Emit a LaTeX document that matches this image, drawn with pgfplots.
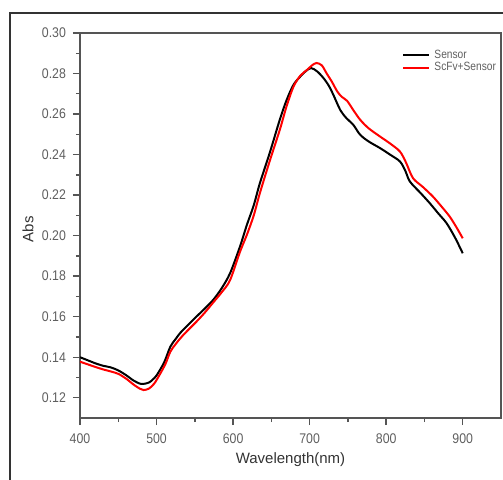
\documentclass[border=0pt]{standalone}
\usepackage{fontspec}
\setmainfont{Liberation Sans}
\newfontfamily\narrowfont[FakeStretch=0.88]{Liberation Sans}
\newfontfamily\legfont[FakeStretch=0.85]{Liberation Sans}
\usepackage{pgfplots}
\pgfplotsset{compat=1.18}
\definecolor{axgray}{RGB}{85,85,85}
\definecolor{txtgray}{RGB}{95,95,95}
\begin{document}
\begin{tikzpicture}
\useasboundingbox (-40pt,-30.5pt) rectangle (211.5pt,209pt);
\draw[line width=0.6pt, black!80] (-35pt,-31pt) -- (-35pt,202.5pt) -- (212pt,202.5pt);
\begin{axis}[
  at={(0pt,0pt)}, anchor=south west,
  scale only axis, width=210.5pt, height=192.5pt,
  xmin=400, xmax=950, ymin=0.11, ymax=0.30,
  xtick={400,500,600,700,800,900},
  minor xtick={450,550,650,750,850},
  ytick={0.12,0.14,0.16,0.18,0.20,0.22,0.24,0.26,0.28,0.30},
  minor ytick={0.13,0.15,0.17,0.19,0.21,0.23,0.25,0.27,0.29},
  yticklabel style={/pgf/number format/.cd, fixed, fixed zerofill, precision=2},
  /pgf/number format/assume math mode=true,
  xtick pos=left, ytick pos=left, tick align=outside,
  major tick length=3.5pt, minor tick length=2pt,
  every tick/.style={axgray, line width=0.7pt},
  axis line style={axgray, line width=1.1pt},
  tick label style={font=\narrowfont\fontsize{7}{8}\selectfont, text=txtgray},
  xticklabel style={yshift=-1pt},
  xlabel={Wavelength(nm)}, ylabel={Abs},
  label style={font=\fontsize{7.5}{9}\selectfont, text=black!80},
  xlabel style={at={(axis description cs:0.5,0)}, anchor=center, yshift=-21pt},
  ylabel style={at={(axis description cs:-0.1235,0.49)}, anchor=center, rotate=0},
  legend style={at={(axis description cs:0.765,0.968)}, anchor=north west, draw=none, fill=none,
    font=\legfont\fontsize{6}{6}\selectfont, text=txtgray, row sep=-3.5pt, inner sep=0pt,
    /tikz/every even column/.append style={column sep=0pt}},
  legend cell align=left,
  legend image code/.code={\draw[#1] (0pt,0pt) -- (13pt,0pt);},
]
\addplot[black, line width=1pt, smooth] coordinates {
(400,0.1400)(410,0.1385)(420,0.1370)(430,0.1358)(440,0.1350)(450,0.1335)(460,0.1312)(470,0.1285)
(480,0.1268)(490,0.1275)(495,0.1290)(500,0.1310)(510,0.1375)(518,0.1452)(525,0.1490)(531,0.1520)
(540,0.1555)(552,0.1600)(563,0.1640)(574,0.1683)(585,0.1740)(596,0.1814)(609,0.1946)(618,0.2053)
(627,0.2150)(635,0.2259)(648,0.2410)(661,0.2572)(670,0.2670)(679,0.2745)(688,0.2786)(695,0.2812)
(702,0.2827)(710,0.2810)(718,0.2778)(725,0.2740)(731,0.2695)(740,0.2620)(748,0.2580)(757,0.2547)
(766,0.2498)(777,0.2465)(792,0.2432)(805,0.2400)(818,0.2366)(825,0.2320)(831,0.2267)(845,0.2210)
(857,0.2160)(868,0.2110)(879,0.2061)(890,0.1990)(900,0.1913)
};
\addlegendentry{Sensor}
\addplot[red, line width=1pt, smooth] coordinates {
(400,0.1378)(410,0.1365)(420,0.1352)(430,0.1340)(440,0.1330)(450,0.1318)(460,0.1295)(470,0.1265)
(478,0.1245)(483,0.1238)(490,0.1245)(497,0.1270)(505,0.1320)(512,0.1370)(518,0.1427)(525,0.1465)
(535,0.1510)(552,0.1575)(563,0.1620)(574,0.1670)(585,0.1720)(596,0.1780)(609,0.1920)(618,0.2004)
(627,0.2100)(635,0.2210)(648,0.2370)(661,0.2522)(670,0.2640)(679,0.2736)(688,0.2790)(697,0.2819)
(703,0.2840)(709,0.2852)(716,0.2840)(722,0.2802)(729,0.2760)(736,0.2712)(742,0.2685)(749,0.2665)
(757,0.2620)(766,0.2572)(777,0.2530)(792,0.2489)(805,0.2455)(818,0.2415)(826,0.2360)(835,0.2284)
(848,0.2240)(861,0.2193)(872,0.2145)(883,0.2094)(892,0.2040)(900,0.1987)
};
\addlegendentry{ScFv+Sensor}
\end{axis}
\end{tikzpicture}
\end{document}
